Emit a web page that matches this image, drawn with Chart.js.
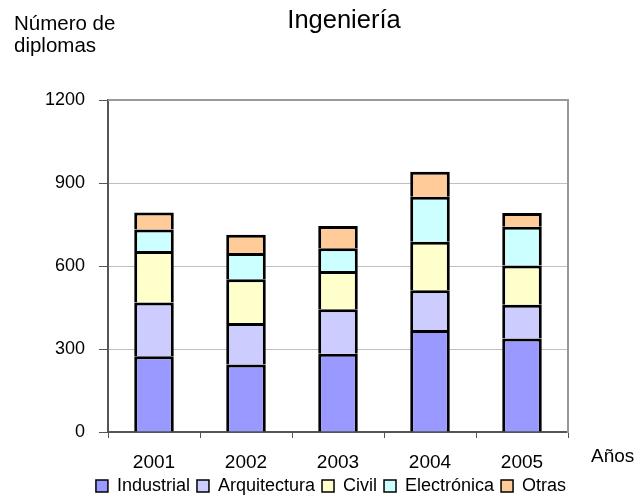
<!DOCTYPE html>
<html>
<head>
<meta charset="utf-8">
<script src="https://cdn.jsdelivr.net/npm/chart.js@4.4.0/dist/chart.umd.min.js"></script>
<style>
  body { margin: 0; background: #fff; }
  #wrap { width: 638px; height: 500px; }
</style>
</head>
<body>
<div id="wrap"><canvas id="engChart" width="638" height="500"></canvas></div>
<script>
const years = ['2001', '2002', '2003', '2004', '2005'];
const industrial = [274, 244, 283, 369, 338];
const arquitectura = [194, 150, 161, 143, 122];
const civil = [186, 158, 138, 176, 142];
const electronica = [78, 95, 82, 162, 140];
const otras = [61, 66, 81, 91, 50];
const yTicks = [0, 300, 600, 900, 1200];

const FONT = 'Liberation Sans, Arial, sans-serif';

// extra texts + top frame line
const extras = {
  id: 'extras',
  afterDraw(chart) {
    const c = chart.ctx;
    const a = chart.chartArea;
    c.save();
    c.strokeStyle = '#999';
    c.lineWidth = 2;
    c.beginPath();
    c.moveTo(a.left, a.top);
    c.lineTo(a.right + 1, a.top);
    c.stroke();

    c.fillStyle = '#000';
    c.textBaseline = 'alphabetic';
    c.textAlign = 'left';
    c.font = '20.5px ' + FONT;
    c.fillText('Número de', 14, 30);
    c.fillText('diplomas', 14, 52);
    c.font = '19px ' + FONT;
    c.fillText('Años', 591, 462);
    c.textAlign = 'center';
    c.font = '25.5px ' + FONT;
    c.fillText('Ingeniería', 344, 28);
    c.restore();
  }
};

function ds(label, data, color) {
  return {
    label: label,
    data: data,
    backgroundColor: color,
    borderColor: '#000',
    borderWidth: { top: 3, left: 3, right: 3, bottom: 0 },
    borderSkipped: false,
    categoryPercentage: 1,
    barPercentage: 0.43
  };
}

new Chart(document.getElementById('engChart'), {
  type: 'bar',
  data: {
    labels: years,
    datasets: [
      ds('Industrial', industrial, '#9999FF'),
      ds('Arquitectura', arquitectura, '#CCCCFF'),
      ds('Civil', civil, '#FFFFCC'),
      ds('Electrónica', electronica, '#CCFFFF'),
      ds('Otras', otras, '#FFCC99')
    ]
  },
  options: {
    responsive: false,
    animation: false,
    layout: { padding: { top: 100, left: 24, right: 0, bottom: -5 } },
    plugins: {
      title: { display: false },
      tooltip: { enabled: false },
      legend: {
        position: 'bottom',
        labels: {
          color: '#000',
          font: { family: FONT, size: 18 },
          boxWidth: 12,
          boxHeight: 12,
          padding: 7,
          generateLabels(chart) {
            const items = Chart.defaults.plugins.legend.labels.generateLabels(chart);
            items.forEach(it => { it.lineWidth = 1.5; });
            return items;
          }
        }
      }
    },
    scales: {
      x: {
        stacked: true,
        grid: { offset: true, drawOnChartArea: false, color: '#555', tickLength: 6 },
        border: { color: '#555', width: 2 },
        ticks: { color: '#000', font: { family: FONT, size: 19 }, padding: 13 },
        afterFit(scale) { scale.height = 38; }
      },
      y: {
        stacked: true,
        min: 0,
        max: 1200,
        afterBuildTicks(scale) { scale.ticks = yTicks.map(v => ({ value: v })); },
        grid: { color: '#c0c0c0', tickColor: '#555', tickLength: 9 },
        border: { color: '#555', width: 2 },
        ticks: { color: '#000', font: { family: FONT, size: 18 }, padding: 14, callback: v => String(v) },
        afterFit(scale) { scale.width = 84; }
      },
      yR: {
        position: 'right',
        grid: { drawOnChartArea: false, drawTicks: false },
        border: { color: '#999', width: 2 },
        ticks: { display: false },
        afterFit(scale) { scale.width = 70; }
      }
    }
  },
  plugins: [extras]
});
</script>
</body>
</html>
